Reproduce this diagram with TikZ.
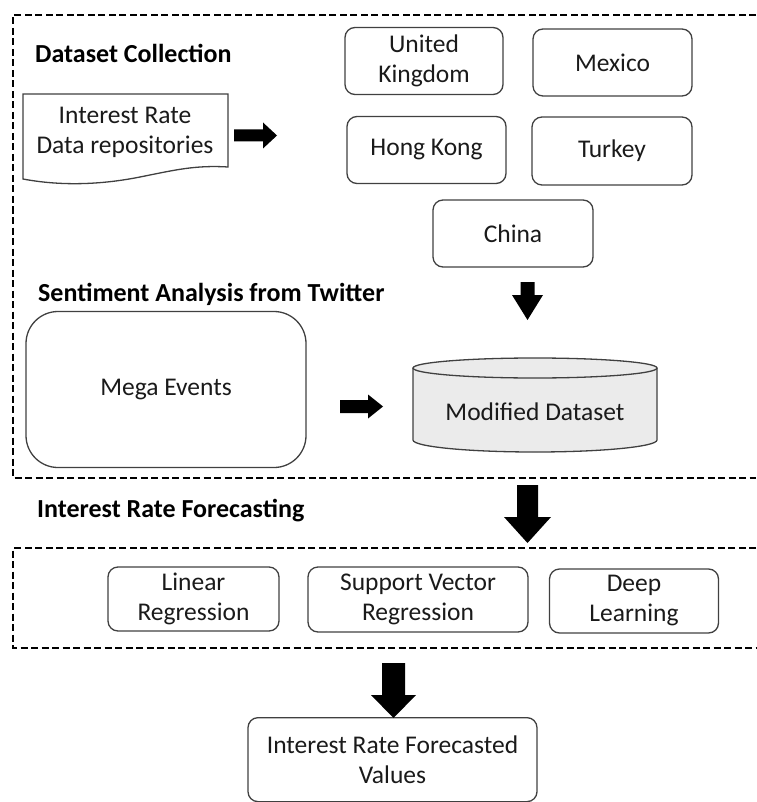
\documentclass[tikz,border=0pt]{standalone}
\usepackage{fontspec}
\setmainfont{Carlito}
\definecolor{boxgray}{HTML}{404040}
\definecolor{txt}{HTML}{1A1A1A}
\definecolor{dbfill}{HTML}{EBEBEB}
\begin{document}
\begin{tikzpicture}[x=1pt,y=1pt,
  box/.style={draw=boxgray, line width=1.3pt, rounded corners=10pt, align=center,
    text=txt, font=\fontsize{25.5}{30}\selectfont, inner sep=0pt},
  plain/.style={align=center, text=txt, font=\fontsize{25.5}{30}\selectfont, inner sep=0pt},
  heading/.style={anchor=west, inner sep=0pt, font=\bfseries\fontsize{26}{30}\selectfont},
  frame/.style={draw=black, line width=2pt, dash pattern=on 7pt off 3.5pt},
  blockarrow/.style={fill=black, draw=none}]
\useasboundingbox (0,0) rectangle (756,-802);
% dashed frames
\draw[frame] (756,-15) -- (13,-15) -- (13,-478) -- (756,-478);
\draw[frame] (756,-548) -- (13,-548) -- (13,-648) -- (756,-648);
% headings
\node[heading] (h1) at (35,-53) {Dataset Collection};
\node[heading] (h2) at (38,-294) {Sentiment Analysis from Twitter};
\node[heading] (h3) at (37,-511) {Interest Rate Forecasting};
% document shape
\draw[boxgray, line width=1.3pt, fill=white]
  (23,-94) -- (228,-94) -- (228,-167)
  .. controls (195,-165) and (175,-170) .. (140,-177)
  .. controls (100,-185) and (60,-186) .. (23,-179) -- cycle;
\node[plain] (repo) at (125,-132) {Interest Rate\\Data repositories};
% country boxes
\node[box, minimum width=158pt, minimum height=67pt] (uk) at (424,-61) {United\\Kingdom};
\node[box, minimum width=159pt, minimum height=67pt] (mex) at (612.5,-62.5) {Mexico};
\node[box, minimum width=159pt, minimum height=67pt] (hk) at (426.5,-150) {Hong Kong};
\node[box, minimum width=160pt, minimum height=68pt] (tur) at (612,-151) {Turkey};
\node[box, minimum width=160pt, minimum height=67pt] (china) at (513,-233.5) {China};
% mega events
\node[box, rounded corners=32pt, minimum width=280pt, minimum height=156pt] (mega) at (166,-389.5) {Mega Events};
% cylinder
\fill[dbfill] (413,-368) -- (413,-440) arc[start angle=180, end angle=360, x radius=122, y radius=12]
  -- (657,-368) arc[start angle=0, end angle=180, x radius=122, y radius=10] -- cycle;
\draw[boxgray, line width=1.3pt] (413,-368) -- (413,-440) arc[start angle=180, end angle=360, x radius=122, y radius=12] -- (657,-368);
\draw[boxgray, line width=1.3pt] (535,-368) ellipse[x radius=122, y radius=10];
\node[plain] (db) at (535,-412) {Modified Dataset};
% model boxes
\node[box, minimum width=171pt, minimum height=64pt] (lr) at (193.5,-599) {Linear\\Regression};
\node[box, minimum width=220pt, minimum height=65pt] (svr) at (418,-599.5) {Support Vector\\Regression};
\node[box, minimum width=169pt, minimum height=64pt] (dl) at (634,-601) {Deep\\Learning};
% final box
\node[box, minimum width=289pt, minimum height=84pt, anchor=north] (final) at (392.5,-717) {Interest Rate Forecasted\\Values};
% block arrows
\fill[blockarrow] (234,-129.5) -- (263,-129.5) -- (263,-122.5) -- (277,-135.5) -- (263,-148.5) -- (263,-141.5) -- (234,-141.5) -- cycle;
\fill[blockarrow] (520.5,-282) -- (534.5,-282) -- (534.5,-295) -- (543,-295) -- (527.5,-320) -- (512,-295) -- (520.5,-295) -- cycle;
\fill[blockarrow] (340,-400) -- (368,-400) -- (368,-394.5) -- (383,-406.5) -- (368,-418.5) -- (368,-413) -- (340,-413) -- cycle;
\fill[blockarrow] (517,-485) -- (538,-485) -- (538,-517) -- (551,-517) -- (527.5,-543) -- (504,-517) -- (517,-517) -- cycle;
\fill[blockarrow] (382,-663) -- (405,-663) -- (405,-695) -- (416,-695) -- (393.5,-718) -- (371,-695) -- (382,-695) -- cycle;
\end{tikzpicture}
\end{document}
